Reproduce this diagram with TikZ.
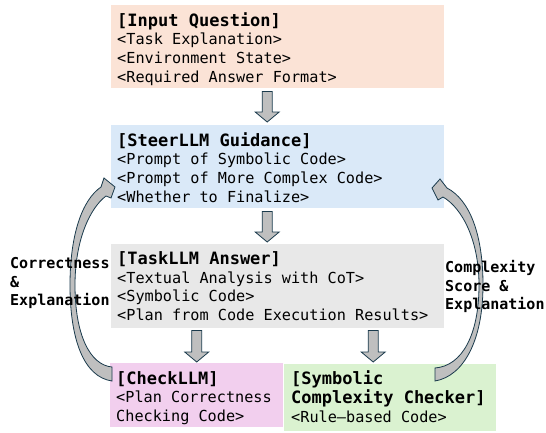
\documentclass[tikz,border=0pt]{standalone}
\usepackage{fontspec}
\setmonofont{DejaVu Sans Mono}
\usetikzlibrary{calc}
\definecolor{peach}{HTML}{FBE3D6}
\definecolor{lblue}{HTML}{DAE9F8}
\definecolor{lgray}{HTML}{E8E8E8}
\definecolor{lpink}{HTML}{F2CFEE}
\definecolor{lgreen}{HTML}{DAF2D0}
\definecolor{arrowfill}{HTML}{BFBFBF}
\definecolor{arrowline}{HTML}{1A3A4C}
\newcommand\monosp{\spaceskip=\fontcharwd\font`\x\relax\xspaceskip=\spaceskip}
\newcommand\ttl[1]{{\fontsize{17}{18.7}\selectfont\bfseries\monosp #1}}
\begin{document}
\begin{tikzpicture}[x=1pt,y=1pt,
  box/.style={fill=#1, draw=none, inner sep=0pt, anchor=north west, minimum width=333pt, minimum height=83pt},
  txt/.style={anchor=base west, inner sep=0pt, text width=340pt,
    font=\ttfamily\fontsize{15.2}{18.7}\selectfont\monosp},
  lbl/.style={anchor=base west, inner sep=0pt, text width=110pt,
    font=\ttfamily\bfseries\fontsize{15}{18.5}\selectfont\monosp},
  blk/.style={draw=arrowline, fill=arrowfill, line width=0.8pt, line join=miter,
    to path={let \p1=(\tikztostart), \p2=(\tikztotarget) in
      (\x1-5pt,\y1) -- (\x1+5pt,\y1) -- (\x1+5pt,\y2+10pt) -- (\x1+12pt,\y2+10pt)
      -- (\x1,\y2) -- (\x1-12pt,\y2+10pt) -- (\x1-5pt,\y2+10pt) -- cycle}},
  curv/.style={draw=arrowline, fill=arrowfill, line width=0.8pt, line join=miter}
]
\useasboundingbox (0,0) rectangle (546,-432);

% boxes
\node[box=peach] (inq) at (111,-5) {};
\node[box=lblue] (steer) at (111,-125) {};
\node[box=lgray, minimum height=84pt] (task) at (111,-244) {};
\node[box=lpink, minimum width=173pt, minimum height=64pt] (check) at (110,-363) {};
\node[box=lgreen, minimum width=212pt, minimum height=67pt] (sym) at (284,-364) {};

% texts
\node[txt] (inqtx) at ([xshift=6pt,yshift=-21pt]inq.north west)
  {\monosp\ttl{[Input Question]}\\<Task Explanation>\\<Environment State>\\<Required Answer Format>};
\node[txt] (steertx) at ([xshift=6pt,yshift=-21pt]steer.north west)
  {\monosp\ttl{[SteerLLM Guidance]}\\<Prompt of Symbolic Code>\\<Prompt of More Complex Code>\\<Whether to Finalize>};
\node[txt] (tasktx) at ([xshift=6pt,yshift=-20.5pt]task.north west)
  {\monosp\ttl{[TaskLLM Answer]}\\<Textual Analysis with CoT>\\<Symbolic Code>\\<Plan from Code Execution Results>};
\node[txt, text width=175pt] (checktx) at ([xshift=6pt,yshift=-21pt]check.north west)
  {\monosp\ttl{[CheckLLM]}\\<Plan Correctness\\Checking Code>};
\node[txt, text width=215pt, font=\ttfamily\fontsize{15.2}{19.2}\selectfont\monosp] (symtx) at ([xshift=7pt,yshift=-20pt]sym.north west)
  {\monosp\ttl{[Symbolic}\\\ttl{Complexity Checker]}\\<Rule–based Code>};

% straight block arrows
\draw[blk] ([xshift=-10.5pt,yshift=-3pt]inq.south) to ([xshift=-10.5pt,yshift=3pt]steer.north);
\draw[blk] ([xshift=-10.5pt,yshift=-3pt]steer.south) to ([xshift=-10.5pt,yshift=2pt]task.north);
\draw[blk] ([yshift=-2pt]task.south -| check.north) to ([yshift=1pt]check.north);
\draw[blk] ([xshift=-17pt,yshift=-2pt]task.south -| sym.north) to ([xshift=-17pt,yshift=2pt]sym.north);

% curved feedback arrows
\draw[curv] (112,-381) .. controls (84,-377) and (70,-340) .. (70,-285)
  .. controls (70,-235) and (82,-200) .. (101,-187)
  -- (104,-178) -- (115,-187) -- (111,-198) -- (106,-196)
  .. controls (90,-208) and (75,-240) .. (75,-285)
  .. controls (75,-335) and (90,-365) .. (112,-367) -- cycle;
\draw[curv] (435,-381) .. controls (464,-376) and (483,-340) .. (483,-285)
  .. controls (483,-235) and (470,-200) .. (447,-188)
  -- (440,-179) -- (432,-188) -- (438,-200) -- (443,-197)
  .. controls (462,-208) and (479,-240) .. (479,-285)
  .. controls (479,-335) and (462,-366) .. (435,-368) -- cycle;

% labels
\node[lbl] (corr) at (10,-268.5) {\monosp Correctness\\\&\\Explanation};
\node[lbl] (cplx) at (445,-272.5) {\monosp Complexity\\Score \&\\Explanation};
\end{tikzpicture}
\end{document}
